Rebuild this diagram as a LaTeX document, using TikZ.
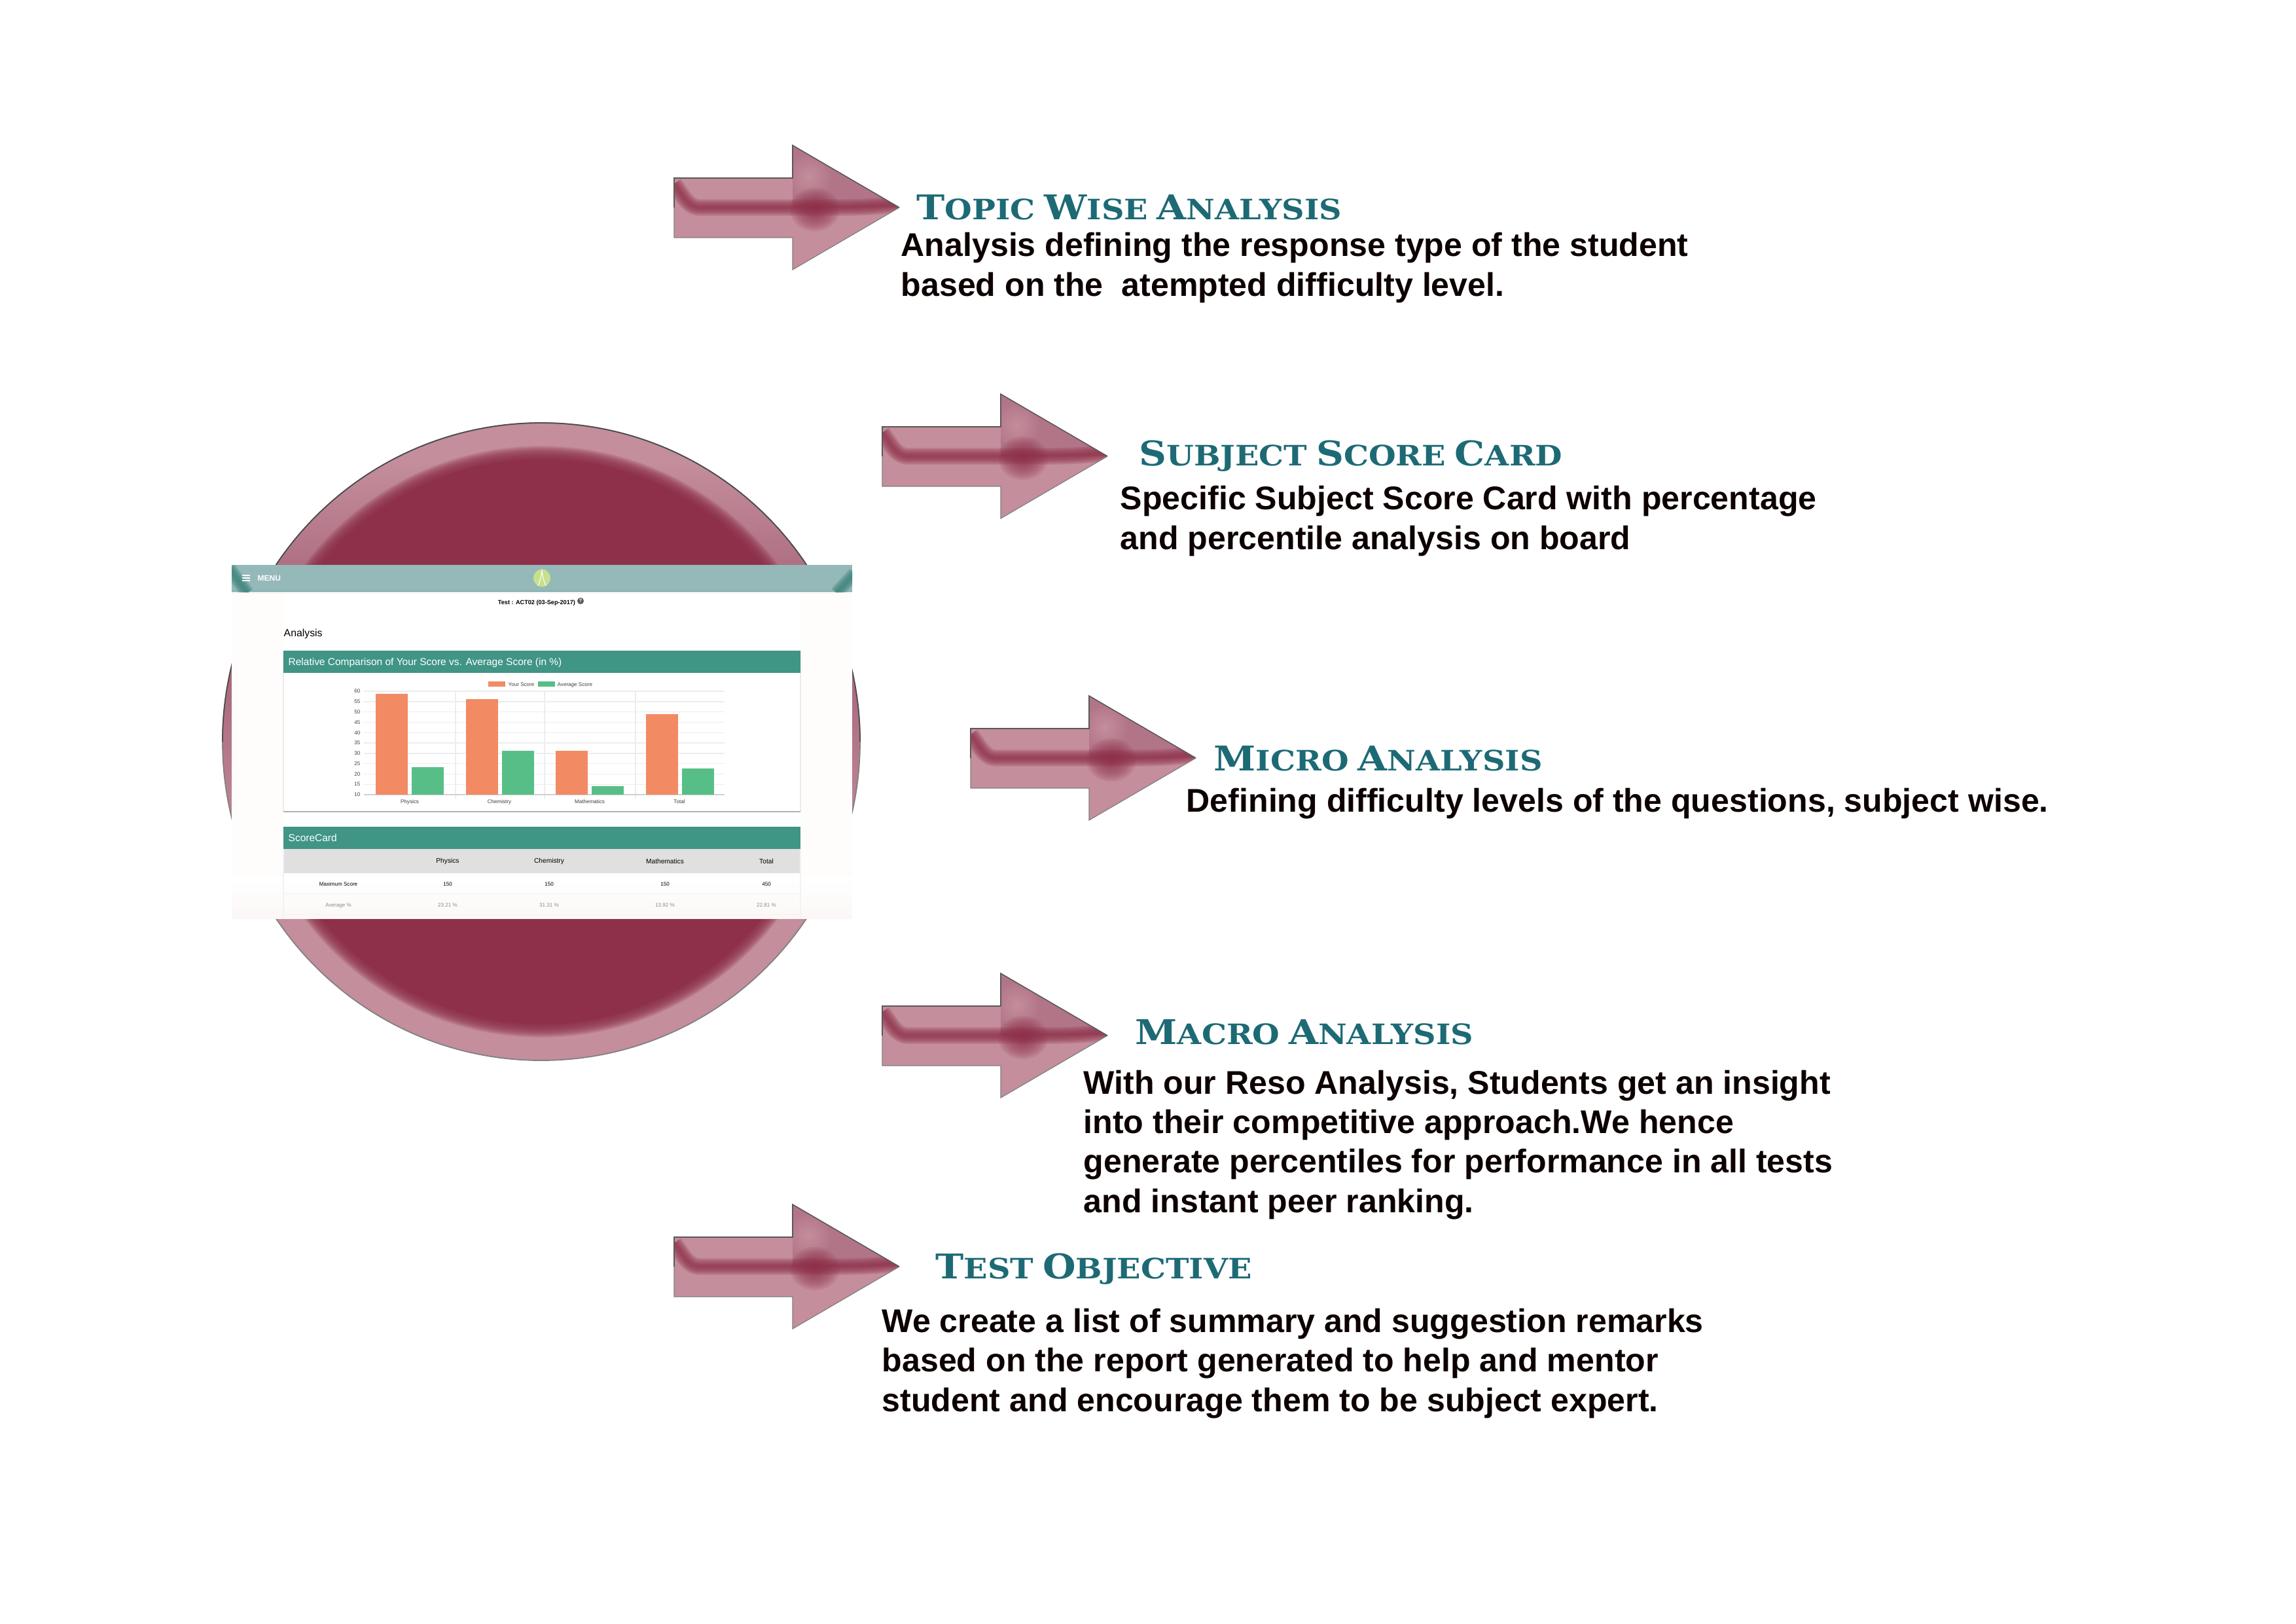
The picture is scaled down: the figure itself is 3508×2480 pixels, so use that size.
\documentclass[tikz,border=0pt]{standalone}
\usepackage{fontspec}
\setmainfont{Liberation Sans}
\newfontfamily\headfont[FakeStretch=1.115]{DejaVu Serif}
\definecolor{ringlight}{HTML}{C48E9C}
\definecolor{ringshadow}{HTML}{A35E74}
\definecolor{headtint}{HTML}{B27588}
\definecolor{ringdark}{HTML}{8E3049}
\definecolor{headteal}{HTML}{1D6A75}
\definecolor{bandteal}{HTML}{94B9B8}
\definecolor{cornerteal}{HTML}{3A827C}
\definecolor{panelgreen}{HTML}{409585}
\definecolor{barorange}{HTML}{F28A64}
\definecolor{bargreen}{HTML}{58BE87}
\definecolor{sheetwhite}{HTML}{FEFDFC}
\definecolor{sheetpink}{HTML}{FCF7F6}
\definecolor{gridgray}{HTML}{EDEDED}
\definecolor{logogreen}{HTML}{C8DF8E}
\pgfdeclareverticalshading{ringshade}{100bp}{color(0bp)=(ringlight); color(41bp)=(ringlight); color(59bp)=(ringshadow); color(72bp)=(ringlight); color(100bp)=(ringlight)}
\newcommand{\headtext}[2]{{\fontsize{14.8}{14.8}\selectfont #1}{\fontsize{12.2}{12.2}\selectfont #2}}
\tikzset{
	headlabel/.style={anchor=base west, inner sep=0pt, text=headteal, font=\headfont\bfseries},
	bodylabel/.style={anchor=base west, inner sep=0pt, align=left, font=\fontsize{14.25}{17.1}\selectfont\bfseries, text=black!95!red},
	tinylabel/.style={inner sep=0pt, font=\fontsize{2.3}{2.3}\selectfont, text=black!75},
	redarrow/.pic={
		\path[fill=ringlight] (0,-45) -- (181,-45) -- (181,-95) -- (344,0) -- (181,95) -- (181,46) -- (0,46) -- cycle;
		\begin{scope}
			\clip (181,-95) -- (344,0) -- (181,0) -- cycle;
			% Darker upper half of the head
			\fill[headtint] (181,-95) -- (344,0) -- (181,0) -- cycle;
			\shade[inner color=ringlight, outer color=headtint] (205,-47) circle (36);
		\end{scope}
		\begin{scope}
			\clip (0,-45) -- (181,-45) -- (181,-95) -- (344,0) -- (181,95) -- (181,46) -- (0,46) -- cycle;
			% Blurred streak through the middle
			\foreach \r in {3,6,...,33}
				\fill[ringdark, opacity=0.13] (215,3) ellipse ({\r*1.15} and \r);
			\foreach \w in {1.2,2.4,...,7.2}
				\draw[ringdark, opacity=0.22, line width=\w pt, line join=round] (0,-36) .. controls (16,-14) and (22,0) .. (40,0) -- (250,0) .. controls (290,0) and (320,-2) .. (344,-6);
		\end{scope}
		\draw[black!50, line width=0.35pt] (0,0) -- (0,46) -- (181,46) -- (181,95) -- (344,0);
		\draw[black!65, line width=0.45pt] (0,0) -- (0,-45) -- (181,-45) -- (181,-95) -- (344,0);
	}
}
\begin{document}
\begin{tikzpicture}[x=0.01cm, y=-0.01cm]
	\useasboundingbox (0,0) rectangle (3508,2480);

	% Draw the disc behind the screenshot
	\shade[shading=ringshade, draw=black!50, line width=0.5pt] (827,1133) circle (487);
	\draw[black!70, line width=0.5pt] (340,1133) arc (180:360:487);
	\foreach \r in {452,451,...,433}
		\fill[ringdark, opacity=0.1] (827,1133) circle (\r);
	\fill[ringdark] (827,1133) circle (432);

	% Draw the screenshot sheet
	\fill[sheetwhite] (354,863) rectangle (1302,1403);
	\fill[white] (433,904) rectangle (1223,1340);
	\shade[top color=white, bottom color=sheetpink] (354,1340) rectangle (1302,1403);
	\fill[bandteal] (354,863) rectangle (1302,904);
	\begin{scope}
		\clip (354,863) rectangle (1302,904);
		\foreach \w in {1,2,...,6} {
			\draw[cornerteal, opacity=0.25, line width=\w pt] (350,868) -- (378,906);
			\draw[cornerteal, opacity=0.25, line width=\w pt] (1306,876) -- (1278,906);
		}
		\draw[cornerteal, opacity=0.6, line width=0.5pt] (354,903.5) -- (1302,903.5);
	\end{scope}
	\draw[black!12, line width=0.5pt] (354,905.5) -- (1302,905.5);
	\foreach \ypos in {879,883,887}
		\draw[white, line width=0.3pt] (370,\ypos) -- (382,\ypos);
	\node[inner sep=0pt, anchor=west, text=white, font=\fontsize{3.4}{3.4}\selectfont\bfseries] (menu) at (393,883) {MENU};
	\fill[logogreen] (828,883) ellipse (13 and 13.5);
	\draw[white, line width=0.3pt] (822,895) .. controls (826,885) and (827,880) .. (828,872) .. controls (829,880) and (830,885) .. (834,895);
	\node[tinylabel, text=black, font=\fontsize{2.6}{2.6}\selectfont\bfseries] (testname) at (820,921) {Test : ACT02 (03-Sep-2017)};
	\fill[black!65] (887,918) circle (5);
	\node[text=white, inner sep=0pt, font=\fontsize{2.2}{2.2}\selectfont\bfseries] (helpmark) at (887,918) {?};
	\node[inner sep=0pt, anchor=west, text=black, font=\fontsize{4.5}{4.5}\selectfont] (analysis) at (433,968) {Analysis};

	% Draw the chart panel
	\draw[black!8, fill=white, line width=0.3pt] (433,994) rectangle (1223,1239);
	\fill[panelgreen] (433,994) rectangle (1223,1028);
	\node[inner sep=0pt, anchor=west, text=white, font=\fontsize{4.4}{4.4}\selectfont] (charttitle) at (440,1012) {Relative Comparison of Your Score vs. Average Score (in \%)};
	\fill[barorange] (746,1041) rectangle (772,1049);
	\node[tinylabel, anchor=west] (yourlabel) at (776,1046) {Your Score};
	\fill[bargreen] (822,1041) rectangle (848,1049);
	\node[tinylabel, anchor=west] (averagelabel) at (851,1046) {Average Score};
	\foreach \val [count=\i from 0] in {60,55,...,10} {
		\pgfmathsetmacro{\ypos}{1056+\i*15.8}
		\draw[gridgray, line width=0.4pt] (556,\ypos) -- (1107,\ypos);
		\node[tinylabel, anchor=east] at (551,\ypos) {\val};
	}
	\foreach \xpos in {696,832,971}
		\draw[gridgray, line width=0.3pt] (\xpos,1056) -- (\xpos,1220);
	\draw[black!18, line width=0.4pt] (556,1214) -- (1107,1214);
	\foreach \xa/\xb/\ytop/\barcol in {574/623/1060/barorange, 629/678/1172/bargreen, 712/761/1068/barorange, 767/816/1147/bargreen, 849/898/1147/barorange, 904/953/1201/bargreen, 987/1036/1091/barorange, 1042/1091/1174/bargreen}
		\fill[\barcol] (\xa,\ytop) rectangle (\xb,1214);
	\foreach \xpos/\subj in {626/Physics, 763/Chemistry, 901/Mathematics, 1038/Total}
		\node[tinylabel] at (\xpos,1225) {\subj};
	\fill[black!30] (433,1239) rectangle (1223,1240.5);

	% Draw the score card table
	\fill[panelgreen] (433,1263) rectangle (1223,1297);
	\node[inner sep=0pt, anchor=west, text=white, font=\fontsize{4.4}{4.4}\selectfont] (cardtitle) at (440,1280) {ScoreCard};
	\fill[black!12] (433,1297) rectangle (1223,1334);
	\draw[black!5, line width=0.3pt] (433,1297) -- (433,1403) (1223,1297) -- (1223,1403) (433,1365) -- (1223,1365) (433,1397) -- (1223,1397);
	\foreach \xpos/\subj/\maxval/\avgval in {684/Physics/150/23.21 \%, 839/Chemistry/150/31.31 \%, 1016/Mathematics/150/13.92 \%, 1171/Total/450/22.81 \%} {
		\node[tinylabel, text=black, font=\fontsize{2.9}{2.9}\selectfont] at (\xpos,1316) {\subj};
		\node[tinylabel, text=black] at (\xpos,1351) {\maxval};
		\node[tinylabel, text=black!45] at (\xpos,1383) {\avgval};
	}
	\node[tinylabel, text=black] (maxscore) at (517,1351) {Maximum Score};
	\node[tinylabel, text=black!45] (avgscore) at (517,1383) {Average \%};

	% Draw the five arrows
	\pic (topicarrow) at (1030,317) {redarrow};
	\pic (subjectarrow) at (1348,697) {redarrow};
	\pic (microarrow) at (1483,1158) {redarrow};
	\pic (macroarrow) at (1348,1582) {redarrow};
	\pic (testarrow) at (1030,1935) {redarrow};

	% Draw the headings and their text
	\node[headlabel] (topichead) at (1400,335) {\headtext{T}{OPIC} \headtext{W}{ISE} \headtext{A}{NALYSIS}};
	\node[bodylabel] (topicbody) at (1376,452) {Analysis defining the response type of the student\\based on the\ \ atempted difficulty level.};
	\node[headlabel] (subjecthead) at (1740,711) {\headtext{S}{UBJECT} \headtext{S}{CORE} \headtext{C}{ARD}};
	\node[bodylabel] (subjectbody) at (1711,839) {Specific Subject Score Card with percentage\\and percentile analysis on board};
	\node[headlabel] (microhead) at (1854,1177) {\headtext{M}{ICRO} \headtext{A}{NALYSIS}};
	\node[bodylabel] (microbody) at (1812,1240) {Defining difficulty levels of the questions, subject wise.};
	\node[headlabel] (macrohead) at (1734,1595) {\headtext{M}{ACRO} \headtext{A}{NALYSIS}};
	\node[bodylabel] (macrobody) at (1655,1852) {With our Reso Analysis, Students get an insight\\into their competitive approach.We hence\\generate percentiles for performance in all tests\\and instant peer ranking.};
	\node[headlabel] (testhead) at (1429,1953) {\headtext{T}{EST} \headtext{O}{BJECTIVE}};
	\node[bodylabel] (testbody) at (1347,2156) {We create a list of summary and suggestion remarks\\based on the report generated to help and mentor\\student and encourage them to be subject expert.};
\end{tikzpicture}
\end{document}
